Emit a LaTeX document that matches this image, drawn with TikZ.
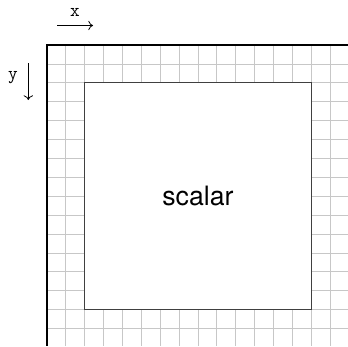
\documentclass[tikz,border=0pt]{standalone}
\usepackage{fontspec}
\usetikzlibrary{arrows.meta}
\newfontfamily\labelsans{TeX Gyre Heros}
\tikzset{
  gridline/.style={draw=black!22, line width=0.6pt},
  axisline/.style={draw=black, line width=1.3pt},
  fieldbox/.style={draw=black!75, line width=0.8pt, fill=white, minimum width=170.1pt, minimum height=170.1pt, inner sep=0pt, font=\labelsans\fontsize{20}{24}\selectfont},
  dirlabel/.style={font=\ttfamily\fontsize{14}{16}\selectfont, inner sep=0pt},
  dirarrow/.style={-{To[length=3.5pt,width=7pt]}, line width=0.6pt}
}
\begin{document}
\begin{tikzpicture}[x=0.75pt,y=-0.75pt]
\useasboundingbox (0,0) rectangle (348,346);
\coordinate (O) at (46.7,45);
\foreach \i in {0,...,15} {
  \draw[gridline] ({46.7+18.9*\i},45) -- ({46.7+18.9*\i},346);
  \draw[gridline] (46.7,{45+18.9*\i}) -- (348,{45+18.9*\i});
}
\node[fieldbox] (scalar) at (197.9,196.2) {scalar};
\coordinate (topend) at (348,45);
\coordinate (leftend) at (46.7,346);
\draw[axisline] (topend) -- (O) -- (leftend);
\node[dirlabel] (xlab) at (75,12) {x};
\coordinate (xa) at (57,25.5);
\coordinate (xb) at (93,25.5);
\draw[dirarrow] (xa) -- (xb);
\node[dirlabel] (ylab) at (13,78) {y};
\coordinate (ya) at (28.3,63);
\coordinate (yb) at (28.3,100);
\draw[dirarrow] (ya) -- (yb);
\end{tikzpicture}
\end{document}
